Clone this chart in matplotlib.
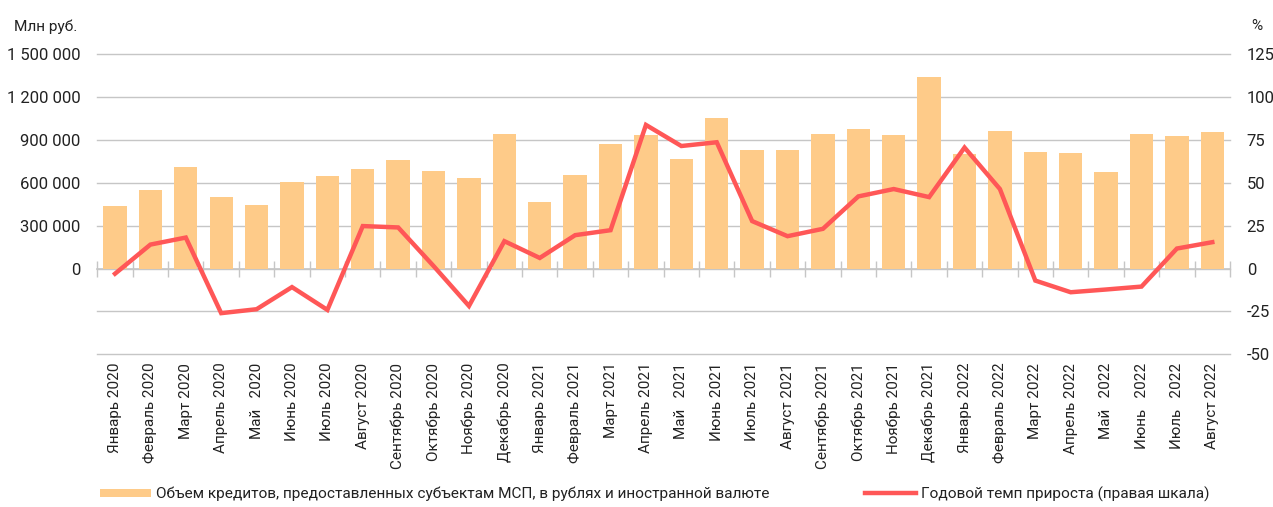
import matplotlib
matplotlib.use("Agg")
import matplotlib.pyplot as plt
import numpy as np
from matplotlib.ticker import FuncFormatter, FixedLocator
from matplotlib.lines import Line2D
from matplotlib.patches import Patch

plt.rcParams['font.family'] = ['Roboto', 'DejaVu Sans']

months = ["Январь 2020", "Февраль 2020", "Март 2020", "Апрель 2020", "Май   2020",
          "Июнь 2020", "Июль 2020", "Август 2020", "Сентябрь 2020", "Октябрь 2020",
          "Ноябрь 2020", "Декабрь 2020", "Январь 2021", "Февраль 2021", "Март 2021",
          "Апрель 2021", "Май   2021", "Июнь 2021", "Июль 2021", "Август 2021",
          "Сентябрь 2021", "Октябрь 2021", "Ноябрь 2021", "Декабрь 2021", "Январь 2022",
          "Февраль 2022", "Март 2022", "Апрель 2022", "Май   2022", "Июнь   2022",
          "Июль   2022", "Август 2022"]

credit_volume = [440000, 548000, 714000, 504000, 445000, 605000, 649000, 696000,
                 759000, 684000, 637000, 942000, 466000, 656000, 874000, 932000,
                 764000, 1057000, 830000, 830000, 940000, 977000, 937000, 1338000,
                 801000, 965000, 815000, 808000, 677000, 944000, 928000, 958000]

growth_pct = [-3.0, 14.0, 18.1, -26.0, -23.7, -10.8, -24.1, 24.8, 24.0, 1.5,
              -21.8, 16.0, 6.2, 19.5, 22.4, 83.8, 71.5, 73.7, 27.7, 18.9,
              23.2, 42.1, 46.4, 41.7, 70.6, 46.4, -7.0, -13.8, -12.2, -10.5,
              11.7, 15.4]

left_ticks = [-600000, -300000, 0, 300000, 600000, 900000, 1200000, 1500000]
right_ticks = [-50, -25, 0, 25, 50, 75, 100, 125]

bar_label = "Объем кредитов, предоставленных субъектам МСП, в рублях и иностранной валюте"
line_label = "Годовой темп прироста (правая шкала)"

BAR_C = "#FECB89"
LINE_C = "#FF5757"
GRID_C = "#C6C6C6"
TXT_C = "#222222"

W, H = 1273, 507
fig = plt.figure(figsize=(W / 100, H / 100), dpi=100)
ax = fig.add_axes([97.3 / W, 1 - 354.3 / H, (1230 - 97.3) / W, (354.3 - 54.3) / H])

x = np.arange(len(months))
ax.bar(x, credit_volume, width=0.66, color=BAR_C, zorder=2)
ax.set_xlim(-0.5, len(months) - 0.5)
ax.set_ylim(left_ticks[0], left_ticks[-1])
ax.yaxis.set_major_locator(FixedLocator(left_ticks))


def fmt_left(v, pos):
    if v < 0:
        return ""
    return f"{int(v):,}".replace(",", " ")


ax.yaxis.set_major_formatter(FuncFormatter(fmt_left))
ax.set_axisbelow(True)
ax.grid(axis='y', color=GRID_C, linewidth=1.0)
ax.grid(axis='x', visible=False)
for gl in ax.get_ygridlines():
    gl.set_clip_on(False)
for s in ax.spines.values():
    s.set_visible(False)
ax.tick_params(axis='y', length=0, pad=12, labelsize=12, labelcolor=TXT_C)
ax.set_xticks(x)
ax.set_xticklabels(months, rotation=90, fontsize=11, color=TXT_C)
ax.tick_params(axis='x', length=0, pad=6)

# zero axis with category boundary ticks
zero_frac = -left_ticks[0] / (left_ticks[-1] - left_ticks[0])
sec = ax.secondary_xaxis(zero_frac)
sec.set_xticks(np.arange(-0.5, len(months), 1.0))
sec.tick_params(axis='x', direction='inout', length=11, width=1.0, color=GRID_C,
                labelbottom=False, labeltop=False)
sec.spines['bottom'].set_color(GRID_C)
sec.spines['bottom'].set_linewidth(1.2)

ax2 = ax.twinx()
ax2.plot(x, growth_pct, color=LINE_C, linewidth=3.2, solid_joinstyle='miter', zorder=5)
ax2.set_ylim(right_ticks[0], right_ticks[-1])
ax2.yaxis.set_major_locator(FixedLocator(right_ticks))
ax2.yaxis.set_major_formatter(FuncFormatter(lambda v, p: f"{int(v)}"))
for s in ax2.spines.values():
    s.set_visible(False)
ax2.tick_params(axis='y', length=0, pad=12, labelsize=12, labelcolor=TXT_C)

fig.text(14 / W, 1 - 27 / H, "Млн руб.", fontsize=11.1, color=TXT_C, va='center', ha='left')
fig.text(1251 / W, 1 - 26 / H, "%", fontsize=11.1, color=TXT_C, va='center', ha='left')

handles = [Patch(facecolor=BAR_C, edgecolor='none'),
           Line2D([0], [0], color=LINE_C, linewidth=3.2)]
fig.legend(handles, [bar_label, line_label], ncol=2, loc='center left',
           bbox_to_anchor=(100 / W, 1 - 494 / H), frameon=False, fontsize=11.05,
           handlelength=3.35, handleheight=0.45, handletextpad=0.3,
           columnspacing=6.2, borderaxespad=0, borderpad=0, labelcolor=TXT_C)

fig.savefig("out.png", dpi=100)
